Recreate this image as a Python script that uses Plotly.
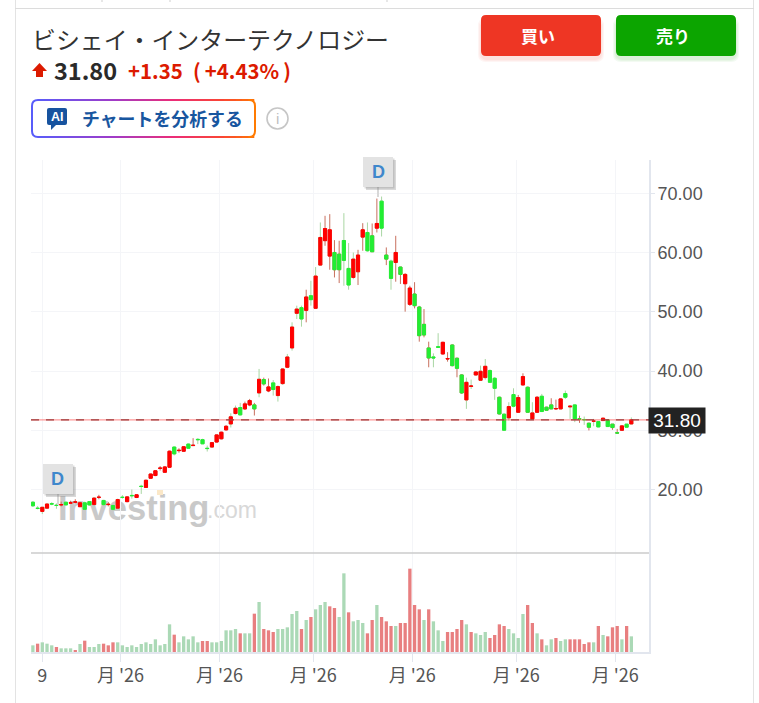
import plotly.graph_objects as go

# --- chart data ---
opens = [17.9,16.9,16.35,16.9,17.65,17.4,17.45,17.9,17.75,17.9,17.15,17.8,18.0,17.5,18.7,18.2,17.5,17.35,16.9,18.75,
 18.0,19.05,18.7,20.6,20.4,21.95,22.4,23.6,22.95,23.8,27.2,26.6,26.5,27.7,27.45,28.5,28.45,27.0,27.2,28.05,
 28.6,30.1,31.1,32.85,33.86,33.64,34.31,34.31,36.33,38.58,36.67,38.02,35.88,37.9,40.65,43.91,49.75,50.7,50.25,52.72,
 50.59,57.88,62.0,59.4,60.01,59.73,62.03,57.32,55.8,56.76,62.6,63.38,62.82,64.11,68.66,59.57,58.55,58.33,57.55,54.74,
 51.26,53.0,50.81,47.89,43.91,42.4,44.13,42.9,42.05,44.41,42.17,39.36,35.15,37.43,39.36,38.46,38.91,40.09,38.8,35.6,
 32.74,32.12,36.05,33.07,37.68,37.28,31.95,33.07,35.77,33.92,34.31,33.64,33.64,36.22,33.97,34.31,31.97,31.85,31.22,31.55,
 31.5,31.67,31.78,31.06,29.6,30.04,31.06,31.1]
closes = [17.3,16.85,17.05,17.6,17.6,17.35,17.5,17.45,17.8,17.95,17.8,16.7,17.45,18.6,18.75,17.5,17.55,16.7,18.35,18.7,
 18.8,19.0,19.15,20.55,21.6,22.65,23.2,23.65,23.85,26.5,26.05,26.65,27.25,27.0,27.5,28.45,27.75,26.95,27.95,29.25,
 29.7,30.7,32.3,33.75,32.63,34.48,35.04,33.64,38.63,37.85,37.34,36.9,37.4,40.37,42.39,47.44,50.47,48.79,52.5,52.05,
 56.03,62.54,64.05,63.83,57.1,57.1,58.67,54.52,58.89,59.57,63.83,60.3,60.13,64.9,64.11,58.89,55.64,60.01,56.31,56.31,
 54.01,51.04,45.98,46.1,42.22,42.22,44.02,44.86,42.12,40.93,40.48,36.33,38.12,37.5,39.86,39.98,40.82,38.12,37.1,32.79,
 30.04,34.03,34.09,35.54,39.08,33.07,32.96,35.6,33.19,33.41,33.64,33.7,35.32,35.6,34.09,31.95,31.95,31.8,30.55,31.6,
 30.6,32.06,30.66,30.49,29.57,30.77,30.55,31.8]
highs = [18.1,17.25,17.1,17.7,17.9,17.7,18.0,18.0,18.15,18.4,17.9,18.0,18.1,18.7,19.15,18.3,17.95,17.5,18.5,19.1,
 18.9,20.05,19.2,20.85,21.7,22.7,23.3,24.0,24.0,26.6,27.3,27.0,27.3,27.8,28.7,28.7,28.6,27.45,28.0,29.3,
 29.8,30.9,32.9,34.2,34.65,34.87,35.32,34.65,40.37,38.9,38.76,38.5,37.6,40.49,42.9,48.23,51.04,51.04,53.73,55.24,
 57.55,65.07,66.19,66.47,62.09,61.98,66.64,61.6,60.0,60.46,64.95,65.07,64.9,69.1,69.44,60.86,58.8,62.82,57.6,56.5,
 54.4,55.0,51.0,50.47,44.97,43.0,46.4,44.95,43.2,44.5,42.3,39.5,38.9,38.58,39.95,40.93,42.05,40.3,39.0,35.7,
 32.9,34.76,37.11,35.99,39.64,37.4,34.76,35.77,36.16,34.0,35.43,35.2,35.4,36.72,34.2,34.4,32.5,32.35,31.3,31.95,
 31.6,32.15,31.85,31.1,30.27,30.85,31.1,32.2]
lows = [17.1,16.7,15.9,16.8,17.4,16.8,17.2,17.4,17.7,17.7,17.1,16.6,17.3,17.4,18.4,17.3,17.2,16.5,16.8,18.5,
 17.9,18.5,18.6,19.3,20.3,21.9,22.3,23.25,22.9,23.7,25.8,26.25,26.4,26.9,27.4,27.7,27.7,26.45,27.1,28.0,
 28.5,30.0,30.5,32.69,32.52,33.47,34.09,32.52,35.6,37.57,36.46,35.88,34.87,37.68,40.49,43.46,48.79,47.5,48.23,51.04,
 50.47,57.77,61.14,57.1,55.8,54.85,54.4,53.73,55.5,54.52,60.3,60.13,60.1,63.38,62.7,57.88,53.73,55.08,54.7,50.03,
 51.0,50.58,44.97,45.7,40.65,40.65,43.99,42.8,41.6,40.8,38.97,36.16,33.64,37.0,39.3,38.4,38.57,38.0,35.15,32.7,
 30.0,31.67,33.9,32.96,37.6,33.0,31.9,32.96,33.19,33.3,33.6,33.47,33.6,35.32,31.95,31.4,31.28,30.94,30.0,30.72,
 30.55,31.6,30.6,30.1,29.43,30.0,30.5,31.05]
wick_dir = list(
 "ggggggrgrrrgggrgrgggrgrgrrrrrrgrrgrggggrrrg"
 "ggrrrgrrgggggggrgggrrrrgggrrgrrgrgrrrrrrrrgg"
 "rrrrrggrggggrgggrrrgrgrrrrgggrgrggrgrrrgggg")
wick_dir = (wick_dir + ["g"] * 128)[:128]
volumes = [20,25,29,25,20,15,11,11,11,6,24,34,15,15,24,25,20,29,29,20,15,20,15,24,29,24,38,20,24,83,52,29,47,38,47,29,33,33,29,29,
 33,65,65,69,56,56,56,115,150,69,65,60,69,69,74,114,123,69,96,105,128,141,150,137,132,105,236,119,92,96,87,56,96,141,105,92,78,78,87,87,
 250,141,128,96,128,92,65,33,60,60,69,96,83,60,56,51,60,42,51,83,78,69,56,42,114,141,87,56,38,20,38,42,33,38,38,38,38,24,29,29,
 78,51,47,74,78,38,78,47]
vol_up_idx = [1,5,9,11,15,16,17,30,36,37,44,47,49,50,51,57,59,63,64,67,71,72,74,75,76,78,79,80,81,82,84,88,89,90,91,93,97,98,99,100,105,106,108,111,114,115,116,117,118,120,122,123,124,126]
y_ticks = [20,30,40,50,60,70]
x_tick_pos = [2,18.6,39.6,59.5,80.5,102.6,123.6]
x_tick_text = ["9","月 '26","月 '26","月 '26","月 '26","月 '26","月 '26"]
last_price = closes[-1]

idx = list(range(len(opens)))
W, H = 759, 703
px = lambda x: x / W
py = lambda y: 1 - y / H
CJK = "Noto Sans CJK JP"
GRID = "#f4f5f8"
AXIS = "#e2e6ee"
RED, GREEN = "#ff0000", "#22ee33"
WICK_R, WICK_G = "#c8705e", "#a9d6a3"

fig = go.Figure()
for d, c in (("g", WICK_G), ("r", WICK_R)):
    sel = [i for i in idx if wick_dir[i] == d]
    fig.add_trace(go.Candlestick(
        x=sel, open=[opens[i] for i in sel], high=[highs[i] for i in sel],
        low=[lows[i] for i in sel], close=[closes[i] for i in sel],
        increasing=dict(line=dict(color=c, width=1), fillcolor=c),
        decreasing=dict(line=dict(color=c, width=1), fillcolor=c),
        xaxis="x", yaxis="y", showlegend=False))
fig.add_trace(go.Candlestick(
    x=idx, open=opens, close=closes,
    high=[max(a, b) for a, b in zip(opens, closes)],
    low=[min(a, b) for a, b in zip(opens, closes)],
    increasing=dict(line=dict(color=RED, width=1), fillcolor=RED),
    decreasing=dict(line=dict(color=GREEN, width=1), fillcolor=GREEN),
    xaxis="x", yaxis="y", showlegend=False))
fig.add_trace(go.Bar(
    x=idx, y=volumes, width=0.7, xaxis="x2", yaxis="y2", showlegend=False,
    marker=dict(color=["#e87f80" if i in vol_up_idx else "#abd9b6" for i in idx], line=dict(width=0))))

shapes, ann = [], []

def line(x0, y0, x1, y1, color, width=1, layer="above", dash=None):
    shapes.append(dict(type="line", xref="paper", yref="paper", x0=px(x0), y0=py(y0), x1=px(x1), y1=py(y1),
                       line=dict(color=color, width=width, dash=dash), layer=layer))

def rrect(x0, y0, x1, y1, r, fill, lc=None, lw=0, layer="above"):
    X, Y = px, py
    p = (f"M{X(x0+r)},{Y(y0)} L{X(x1-r)},{Y(y0)} Q{X(x1)},{Y(y0)} {X(x1)},{Y(y0+r)} "
         f"L{X(x1)},{Y(y1-r)} Q{X(x1)},{Y(y1)} {X(x1-r)},{Y(y1)} L{X(x0+r)},{Y(y1)} "
         f"Q{X(x0)},{Y(y1)} {X(x0)},{Y(y1-r)} L{X(x0)},{Y(y0+r)} Q{X(x0)},{Y(y0)} {X(x0+r)},{Y(y0)} Z")
    shapes.append(dict(type="path", xref="paper", yref="paper", path=p, fillcolor=fill, layer=layer,
                       line=dict(color=lc or "rgba(0,0,0,0)", width=lw)))

def text(x, y, s, size, color, anchor="left", family=CJK, weight=None, **kw):
    f = dict(size=size, color=color, family=family)
    if weight:
        f["weight"] = weight
    ann.append(dict(xref="paper", yref="paper", x=px(x), y=py(y), text=s, showarrow=False, xanchor=anchor,
                    yanchor="middle", font=f, align="center", borderpad=0, **kw))

# page frame
line(15.5, 0, 15.5, 703, "#e3e3e3", 1)
line(753.5, 0, 753.5, 703, "#e3e3e3", 1)
line(15, 8.5, 754, 8.5, "#dcdcdc", 1)
for tx in (102, 170, 387):
    line(tx, 0, tx, 2, "#cfcfcf", 1)

# header
text(31, 38, "ビシェイ・インターテクノロジー", 23.9, "#333333")
shapes.append(dict(type="path", xref="paper", yref="paper", fillcolor="#dc1a00", line=dict(width=0),
    path=f"M{px(39.5)},{py(63)} L{px(47)},{py(71)} L{px(43)},{py(71)} L{px(43)},{py(77)} L{px(36)},{py(77)} L{px(36)},{py(71)} L{px(32)},{py(71)} Z"))
text(53, 70.5, "31.80", 23.5, "#2a2a2a", weight=700)
text(127, 70.5, "+1.35", 20.4, "#dc1a00", weight=700)
text(192, 70.5, "(\u2009+4.43%\u2009)", 20.4, "#dc1a00", weight=700)

# buttons with soft shadows
for s in range(3):
    rrect(481 - 3 + s, 18 + s, 601 + 3 - s, 62 - s, 8, "rgba(238,54,36,0.05)")
    rrect(616 - 3 + s, 18 + s, 736 + 3 - s, 62 - s, 8, "rgba(12,165,0,0.05)")
rrect(481, 15, 601, 56, 5, "#ee3624")
rrect(616, 15, 736, 56, 5, "#0ca500")
text(538, 36, "買い", 17, "#ffffff", "center", weight=700)
text(673, 36, "売り", 17, "#ffffff", "center", weight=700)

# AI button with a gradient outline
stops = [(32, (88, 92, 250)), (110, (160, 60, 200)), (170, (235, 45, 120)), (220, (250, 70, 50)), (256, (255, 125, 0))]
def grad(x):
    for (a, ca), (b, cb) in zip(stops, stops[1:]):
        if x <= b:
            t = max(0, (x - a) / (b - a))
            return "rgb(%d,%d,%d)" % tuple(round(ca[k] + (cb[k] - ca[k]) * t) for k in range(3))
    return "rgb(255,125,0)"
rrect(32, 100, 255, 137, 6, "#ffffff", grad(32), 0)
for x in range(38, 249, 6):
    line(x, 100, x + 6.3, 100, grad(x), 2)
    line(x, 137, x + 6.3, 137, grad(x), 2)
for x, col in ((32, grad(32)), (255, grad(255))):
    line(x, 106, x, 131, col, 2)
for (xa, ya, xb, yb, cx, cy) in ((38, 100, 32, 106, 32, 100), (32, 131, 38, 137, 32, 137)):
    shapes.append(dict(type="path", xref="paper", yref="paper", line=dict(color=grad(32), width=2),
        path=f"M{px(xa)},{py(ya)} Q{px(cx)},{py(cy)} {px(xb)},{py(yb)}"))
for (xa, ya, xb, yb, cx, cy) in ((249, 100, 255, 106, 255, 100), (255, 131, 249, 137, 255, 137)):
    shapes.append(dict(type="path", xref="paper", yref="paper", line=dict(color=grad(255), width=2),
        path=f"M{px(xa)},{py(ya)} Q{px(cx)},{py(cy)} {px(xb)},{py(yb)}"))
rrect(47, 108, 67, 125, 2, "#17539f")
shapes.append(dict(type="path", xref="paper", yref="paper", fillcolor="#17539f", line=dict(width=0),
    path=f"M{px(51)},{py(124)} L{px(57)},{py(124)} L{px(51)},{py(130)} Z"))
text(57, 116.5, "AI", 12.5, "#ffffff", "center", family="Liberation Sans", weight=700)
text(80.5, 118, "チャートを分析する", 17.9, "#18569f", weight=700)
shapes.append(dict(type="circle", xref="paper", yref="paper", x0=px(267), x1=px(288), y0=py(108), y1=py(129),
                   line=dict(color="#c6c6c6", width=1.6), fillcolor="#ffffff"))
text(277.5, 118.5, "i", 15, "#c0c0c0", "center", family="Liberation Sans")

# watermark, beneath the candles
for x0, x1, y0, y1, s, size, col, wgt in ((55, 208, 521, 487, "Investing", 34.5, "#c9c9c9", 700),
                                          (204, 262, 525, 491, ".com", 23, "#d8d8d8", 400)):
    shapes.append(dict(type="rect", xref="paper", yref="paper", x0=px(x0), x1=px(x1), y0=py(y0), y1=py(y1),
        fillcolor="rgba(0,0,0,0)", line=dict(width=0), layer="below",
        label=dict(text=s, textposition="middle left", padding=0,
                   font=dict(size=size, color=col, family="Liberation Sans", weight=wgt))))
shapes.append(dict(type="rect", xref="paper", yref="paper", x0=px(157), x1=px(163), y0=py(490), y1=py(495),
                   fillcolor="#fbe8c8", line=dict(width=0), layer="below"))

# pane separator and last-price line
line(31, 553, 649, 553, "#cbcbcb", 1.5)
shapes.append(dict(type="line", xref="x domain", yref="y", x0=0, x1=1, y0=last_price, y1=last_price,
                   line=dict(color="rgba(255,70,70,0.55)", width=1.2)))
shapes.append(dict(type="line", xref="x domain", yref="y", x0=0, x1=1, y0=last_price, y1=last_price,
                   line=dict(color="#9c3a3a", width=1.2, dash="8px,7px")))

# D markers
for bx, by, sx, sy in ((363, 157, 378, 197), (43, 464, 58, 505)):
    line(sx, by + 30, sx, sy, "#d8d8d8", 2)
    rrect(bx + 3, by + 3, bx + 33, by + 33, 0, "rgba(120,120,120,0.28)")
    rrect(bx + 1.5, by + 1.5, bx + 31.5, by + 31.5, 0, "rgba(120,120,120,0.25)")
    rrect(bx, by, bx + 30, by + 30, 0, "#e3e3e3")
    text(bx + 15, by + 15, "D", 18, "#3f88cc", "center", family="Liberation Sans", weight=700)

# price tag
ann.append(dict(xref="paper", yref="y", x=px(648), y=last_price - 0.15, text="31.80", showarrow=False, xanchor="left",
                yanchor="middle", width=56, height=25, bgcolor="#222222", align="center", borderpad=0,
                font=dict(size=19, color="#ffffff", family="Liberation Sans")))

x_range = [-0.4, 130.75]
fig.update_layout(
    width=W, height=H, margin=dict(l=0, r=0, t=0, b=0), autosize=False,
    paper_bgcolor="#ffffff", plot_bgcolor="#ffffff", boxgap=0.05, barmode="overlay", dragmode=False,
    showlegend=False, shapes=shapes, annotations=ann,
    xaxis=dict(domain=[px(31), px(649)], range=x_range, anchor="y", rangeslider=dict(visible=False),
               tickvals=x_tick_pos, showticklabels=False, ticks="", showgrid=True, gridcolor=GRID, gridwidth=1,
               zeroline=False, showline=False),
    yaxis=dict(domain=[py(553), py(160)], range=[9.34, 75.6], side="right", anchor="x", tickvals=y_ticks,
               tickformat=".2f", ticks="outside", ticklen=4, tickcolor=AXIS, showgrid=True, gridcolor=GRID,
               gridwidth=1, zeroline=False, showline=True, linecolor=AXIS, linewidth=2, ticklabelstandoff=-1,
               tickfont=dict(size=18, color="#555555", family="Liberation Sans")),
    xaxis2=dict(domain=[px(31), px(649)], range=x_range, anchor="y2", tickvals=x_tick_pos, ticktext=x_tick_text,
                tickmode="array", ticks="outside", ticklen=8, tickcolor=AXIS, showgrid=True, gridcolor=GRID,
                zeroline=False, showline=True, linecolor=AXIS, linewidth=2, ticklabelstandoff=-2,
                tickfont=dict(size=18, color="#555555", family=CJK)),
    yaxis2=dict(domain=[py(652), py(553)], range=[0, 297], side="right", anchor="x2", showticklabels=False,
                ticks="", showgrid=False, zeroline=False, showline=True, linecolor=AXIS, linewidth=2),
)
fig.write_html("out.html", config=dict(displayModeBar=False),
               post_script="document.body.style.margin='0';document.body.style.overflow='hidden';")
